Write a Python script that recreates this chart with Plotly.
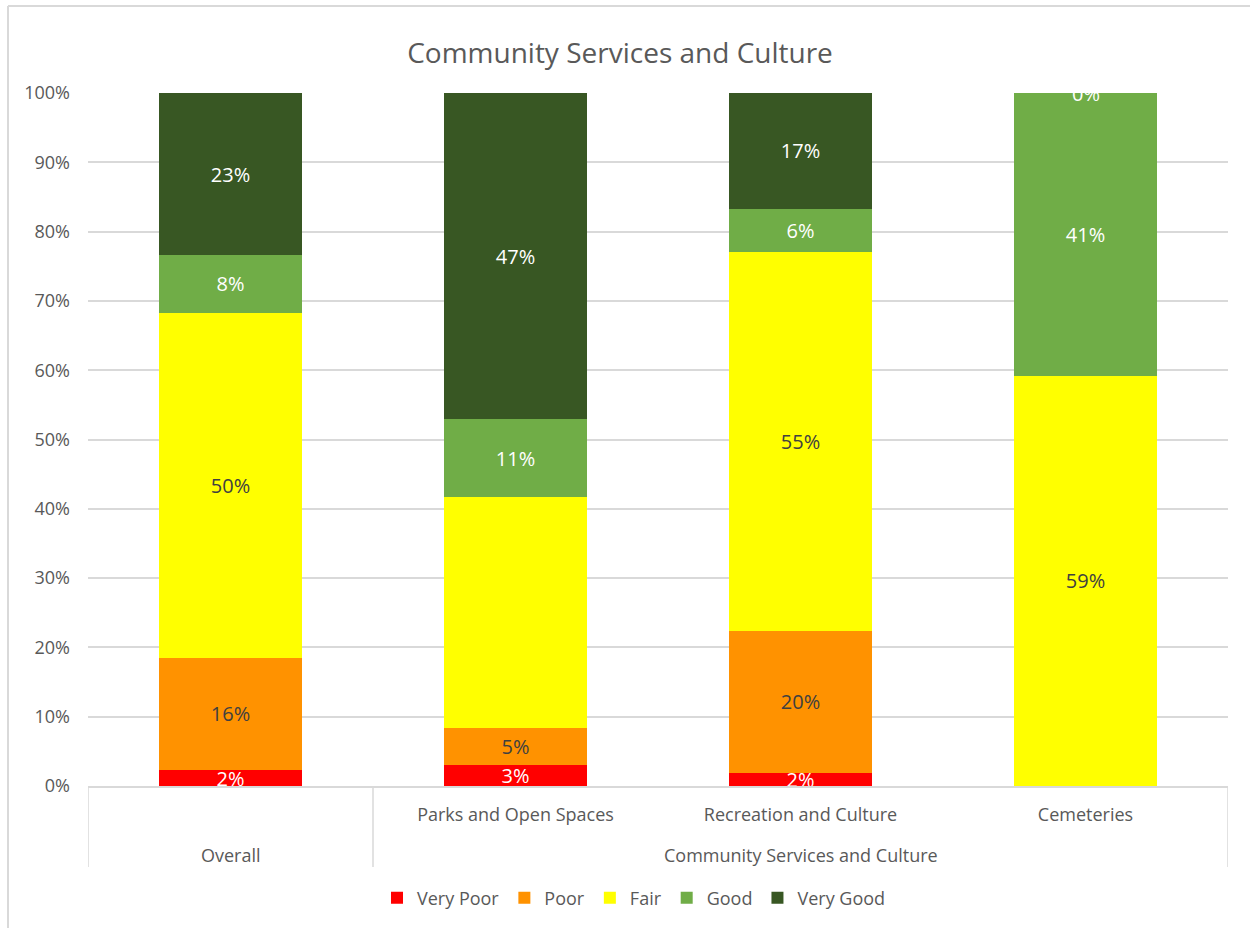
import plotly.graph_objects as go

# ---- data ----
categories = ["Overall", "Parks and Open Spaces", "Recreation and Culture", "Cemeteries"]
groups = ["Overall", "Community Services and Culture",
          "Community Services and Culture", "Community Services and Culture"]

series_names = ["Very Poor", "Poor", "Fair", "Good", "Very Good"]
very_poor = [2.3, 3.1, 1.9, 0.0]
poor = [16.2, 5.3, 20.5, 0.0]
fair = [49.8, 33.3, 54.7, 59.2]
good = [8.3, 11.2, 6.2, 40.8]
very_good = [23.4, 47.1, 16.7, 0.0]

# labels that are not shown in the original (series index, category index)
hidden_labels = [(0, 3), (1, 3), (2, 1)]

y_ticks = [0, 10, 20, 30, 40, 50, 60, 70, 80, 90, 100]
y_tick_labels = ["0%", "10%", "20%", "30%", "40%", "50%", "60%", "70%", "80%", "90%", "100%"]

colors = ["#FF0000", "#FF9200", "#FFFF00", "#70AD47", "#385723"]
label_colors = ["#FFFFFF", "#404040", "#404040", "#FFFFFF", "#FFFFFF"]

FONT = "Open Sans"
GRAY = "#595959"
GRID = "#D9D9D9"
LABEL_SIZE = 20

fig = go.Figure()
all_series = [very_poor, poor, fair, good, very_good]
for si, (name, vals) in enumerate(zip(series_names, all_series)):
    texts = []
    for ci, v in enumerate(vals):
        if (si, ci) in hidden_labels:
            texts.append("")
        else:
            texts.append(f"{round(v):.0f}%")
    fig.add_trace(go.Bar(
        name=name,
        x=categories,
        y=vals,
        marker=dict(color=colors[si], line=dict(width=0)),
        text=texts,
        textposition="inside",
        insidetextanchor="middle",
        textangle=0,
        textfont=dict(family=FONT, size=LABEL_SIZE, color=label_colors[si]),
        cliponaxis=True,
    ))

W, H = 1250, 928
L, R, T, B = 88, 22, 93, 142
pw = W - L - R
ph = H - T - B


def px_x(x):
    return (x - L) / pw


def px_y(y):
    return (H - B - y) / ph


# tick text: the sub-category row (blank where a bar is its own group)
tick_text = ["" if c == g else c for c, g in zip(categories, groups)]

# group labels centred under their members, dividers at group borders
annotations = []
shapes = []
group_order = []
for g in groups:
    if g not in group_order:
        group_order.append(g)
boundaries = set()
for g in group_order:
    idx = [i for i, gg in enumerate(groups) if gg == g]
    mid = categories[idx[len(idx) // 2]] if len(idx) % 2 == 1 else None
    annotations.append(dict(
        text=g, xref="x", yref="paper",
        x=mid if mid is not None else (idx[0] + idx[-1]) / 2,
        y=px_y(855), yanchor="middle", xanchor="center", showarrow=False,
        font=dict(family=FONT, size=18, color=GRAY)))
    boundaries.add(idx[0] - 0.5)
    boundaries.add(idx[-1] + 0.5)
for b in sorted(boundaries):
    shapes.append(dict(type="line", xref="x", yref="paper",
                       x0=b, x1=b, y0=0, y1=px_y(867),
                       line=dict(color=GRID, width=1.5)))

# label of the zero-height top segment (Excel centres it on the bar top)
totals = [sum(s[i] for s in all_series) for i in range(len(categories))]
for ci, v in enumerate(very_good):
    if v == 0:
        annotations.append(dict(
            text=f"{round(v):.0f}%", xref="x", yref="y",
            x=categories[ci], y=totals[ci], yanchor="middle", xanchor="center",
            showarrow=False, font=dict(family=FONT, size=LABEL_SIZE, color="#FFFFFF")))

# chart-area border (left and top edges visible)
shapes += [
    dict(type="line", xref="paper", yref="paper",
         x0=px_x(8), x1=px_x(8), y0=px_y(6), y1=px_y(928),
         line=dict(color=GRID, width=2)),
    dict(type="line", xref="paper", yref="paper",
         x0=px_x(8), x1=px_x(1250), y0=px_y(6), y1=px_y(6),
         line=dict(color=GRID, width=2)),
]

fig.update_layout(
    width=W, height=H,
    barmode="stack",
    bargap=0.5,
    paper_bgcolor="white",
    plot_bgcolor="white",
    margin=dict(l=L, r=R, t=T, b=B, autoexpand=False),
    font=dict(family=FONT, color=GRAY, size=18),
    uniformtext=dict(minsize=LABEL_SIZE, mode="show"),
    title=dict(text="Community Services and Culture",
               x=620 / W, xref="container", xanchor="center",
               y=1 - 53 / H, yref="container", yanchor="middle",
               font=dict(family=FONT, size=28, color=GRAY)),
    legend=dict(orientation="h", x=634 / W, xref="container", xanchor="center",
                y=1 - 898 / H, yref="container", yanchor="middle",
                font=dict(family=FONT, size=18, color=GRAY),
                itemwidth=30,
                traceorder="normal"),
    yaxis=dict(range=[0, 100], tickvals=y_ticks, ticktext=y_tick_labels,
               showgrid=True, gridcolor=GRID, gridwidth=1.5,
               zeroline=False, showline=False,
               tickfont=dict(family=FONT, size=18, color=GRAY),
               ticklabelstandoff=17),
    xaxis=dict(type="category", range=[-0.5, 3.5],
               tickvals=categories, ticktext=tick_text,
               showline=True, linecolor=GRID, linewidth=1.5, ticks="",
               ticklabelstandoff=12,
               tickfont=dict(family=FONT, size=18, color=GRAY)),
    shapes=shapes,
    annotations=annotations,
)

fig.write_html("out.html", config={"displayModeBar": False},
               post_script="document.body.style.margin='0px';")
